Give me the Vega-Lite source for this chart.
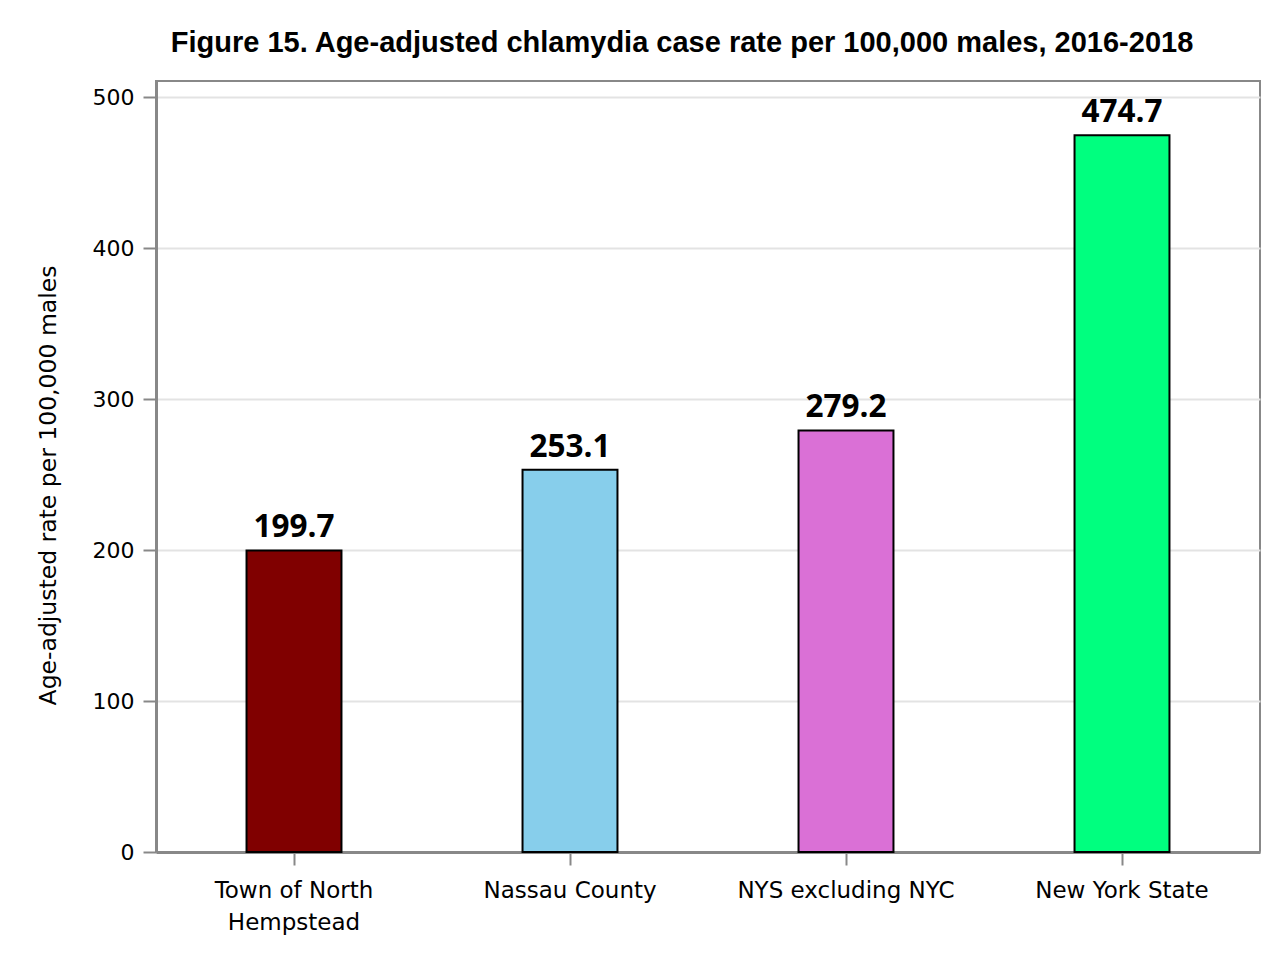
{
  "$schema": "https://vega.github.io/schema/vega-lite/v6.json",
  "width": 1104,
  "height": 771,
  "autosize": {"type": "none"},
  "padding": {"left": 156, "top": 81, "right": 23, "bottom": 108},
  "background": "white",
  "title": {
    "text": "Figure 15. Age-adjusted chlamydia case rate per 100,000 males, 2016-2018",
    "font": "Liberation Sans",
    "fontSize": 29,
    "fontWeight": "bold",
    "color": "black",
    "anchor": "middle",
    "baseline": "alphabetic",
    "offset": 0,
    "dx": -26
  },
  "data": {
    "values": [
      {"area": "Town of North Hempstead", "rate": 199.7},
      {"area": "Nassau County", "rate": 253.1},
      {"area": "NYS excluding NYC", "rate": 279.2},
      {"area": "New York State", "rate": 474.7}
    ]
  },
  "encoding": {
    "x": {
      "field": "area",
      "type": "nominal",
      "sort": null,
      "title": null,
      "scale": {"paddingInner": 0.656, "paddingOuter": 0.328},
      "axis": {
        "labelAngle": 0,
        "labelFont": "DejaVu Sans",
        "labelFontSize": 23,
        "labelColor": "black",
        "labelLineHeight": 32,
        "labelPadding": 14,
        "labelLimit": 0,
        "tickSize": 13,
        "tickWidth": 2,
        "tickColor": "#888888",
        "domainColor": "#888888",
        "domainWidth": 3,
        "labelExpr": "datum.value == 'Town of North Hempstead' ? ['Town of North', 'Hempstead'] : datum.value"
      }
    },
    "y": {
      "field": "rate",
      "type": "quantitative",
      "scale": {"domain": [0, 510.6], "nice": false},
      "title": "Age-adjusted rate per 100,000 males",
      "axis": {
        "values": [0, 100, 200, 300, 400, 500],
        "labelFont": "DejaVu Sans",
        "labelFontSize": 22,
        "labelColor": "black",
        "labelPadding": 9,
        "tickSize": 13,
        "tickWidth": 2,
        "tickColor": "#888888",
        "domainColor": "#888888",
        "domainWidth": 3,
        "grid": true,
        "gridColor": "#e3e3e3",
        "gridWidth": 2,
        "titleFont": "DejaVu Sans",
        "titleFontSize": 23.5,
        "titleFontWeight": "normal",
        "titleColor": "black",
        "titleX": -108,
        "titleY": 404,
        "titleAlign": "center",
        "titleBaseline": "middle"
      }
    }
  },
  "layer": [
    {
      "mark": {"type": "bar", "stroke": "black", "strokeWidth": 2},
      "encoding": {
        "color": {
          "field": "area",
          "type": "nominal",
          "legend": null,
          "scale": {
            "domain": ["Town of North Hempstead", "Nassau County", "NYS excluding NYC", "New York State"],
            "range": ["#800000", "#87CEEB", "#DA70D6", "#00FF7F"]
          }
        }
      }
    },
    {
      "mark": {
        "type": "text",
        "font": "Open Sans",
        "fontSize": 31.5,
        "fontWeight": "bold",
        "color": "black",
        "baseline": "alphabetic",
        "dy": -13
      },
      "encoding": {
        "text": {"field": "rate", "type": "quantitative", "format": ".1f"}
      }
    }
  ],
  "config": {
    "view": {"stroke": "#888888", "strokeWidth": 2}
  }
}
